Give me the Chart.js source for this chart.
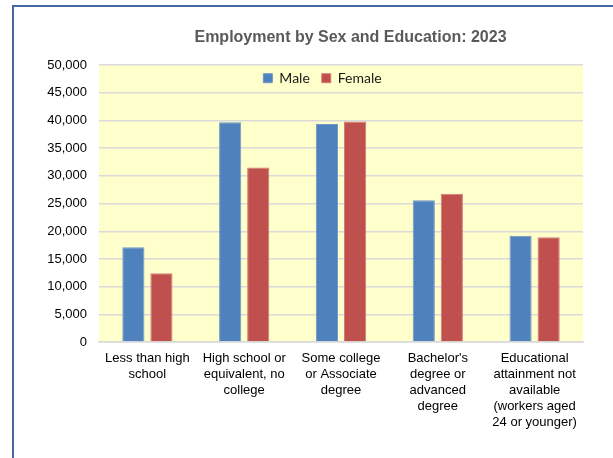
<!DOCTYPE html>
<html>
<head>
<meta charset="utf-8">
<script src="https://cdn.jsdelivr.net/npm/chart.js@4.4.0/dist/chart.umd.min.js"></script>
<style>
  html, body { margin: 0; padding: 0; background: #fff; overflow: hidden; }
  #wrap { position: relative; width: 613px; height: 458px; }
  #chart { position: absolute; left: 0; top: 0; }
  #frame {
    position: absolute; left: 12px; top: 5px; width: 800px; height: 800px;
    border: 2px solid #4369a0; pointer-events: none;
  }
</style>
</head>
<body>
<div id="wrap">
  <canvas id="chart" width="613" height="458"></canvas>
  <div id="frame"></div>
</div>
<script>
const categories = [
  ["Less than high", "school"],
  ["High school or", "equivalent, no", "college"],
  ["Some college", "or Associate", "degree"],
  ["Bachelor's", "degree or", "advanced", "degree"],
  ["Educational", "attainment not", "available", "(workers aged", "24 or younger)"],
];
const male = [17100, 39700, 39400, 25600, 19200];
const female = [12400, 31500, 39850, 26800, 18900];
const yMax = 50000;
const yStep = 5000;

// yellow plot area, legend/title nudged to where they sit in the original
const plotArea = {
  id: "plotArea",
  beforeDraw(chart) {
    const { ctx, chartArea } = chart;
    ctx.save();
    ctx.fillStyle = "#FFFFCC";
    ctx.fillRect(chartArea.left, chartArea.top, chartArea.right - chartArea.left, chartArea.bottom - chartArea.top);
    ctx.restore();
  },
  afterLayout(chart) {
    // legend only takes 1px in the layout, then is opened up inside the plot area
    const lg = chart.legend;
    lg.left += 31; lg.right += 31;
    lg.top -= 5;
    lg.bottom = lg.top + 40;
    const t = chart.titleBlock;
    t.left += 59; t.right += 59;
  },
};

const ctx = document.getElementById("chart");

new Chart(ctx, {
  type: "bar",
  data: {
    labels: categories,
    datasets: [
      {
        label: "Male",
        data: male,
        backgroundColor: "#4F81BD",
        borderColor: "#6f97c9",
        borderWidth: 1,
        categoryPercentage: 0.58,
        barPercentage: 0.79,
      },
      {
        label: "Female",
        data: female,
        backgroundColor: "#C0504D",
        borderColor: "#d07a77",
        borderWidth: 1,
        categoryPercentage: 0.58,
        barPercentage: 0.79,
      },
    ],
  },
  options: {
    responsive: false,
    animation: false,
    layout: {
      padding: { left: 0, right: 30, top: 0, bottom: 0 },
    },
    plugins: {
      title: {
        display: true,
        text: "Employment by Sex and Education: 2023",
        color: "#595959",
        font: { family: "Liberation Sans", size: 16, weight: "bold" },
        padding: { top: 28, bottom: 17 },
      },
      legend: {
        position: "top",
        maxHeight: 1,
        labels: {
          boxWidth: 9,
          boxHeight: 9,
          padding: 12,
          color: "#1a1a1a",
          font: { family: "Lato", size: 14 },
        },
      },
      tooltip: { enabled: false },
    },
    scales: {
      x: {
        grid: { display: false, drawTicks: false },
        border: { display: true, color: "#d9d9d9", width: 1.5 },
        ticks: {
          color: "#000000",
          autoSkip: false,
          maxRotation: 0,
          padding: 8,
          font: { family: "Liberation Sans", size: 13, lineHeight: 1.23 },
        },
        afterFit(scale) {
          scale.height = 116;
        },
      },
      y: {
        min: 0,
        max: yMax,
        grid: { color: "#d9d9d9", lineWidth: 1.5, drawTicks: false },
        border: { display: false },
        ticks: {
          stepSize: yStep,
          color: "#000000",
          padding: 12,
          font: { family: "Liberation Sans", size: 13 },
        },
        afterFit(scale) {
          scale.width = 99;
        },
      },
    },
  },
  plugins: [plotArea],
});
</script>
</body>
</html>
